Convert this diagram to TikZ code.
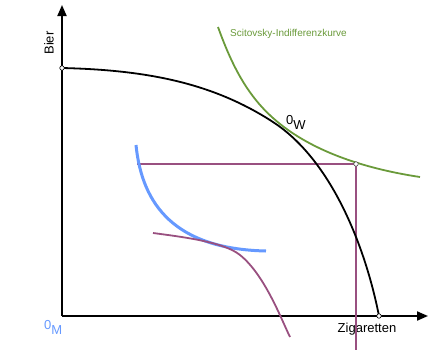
\documentclass[tikz,border=0pt]{standalone}
\usepackage{fontspec}
\setmainfont{Liberation Sans}
\usetikzlibrary{arrows.meta}
\definecolor{icgreen}{RGB}{106,154,58}
\definecolor{magline}{RGB}{153,80,128}
\definecolor{blueline}{RGB}{102,153,255}
\tikzset{
  axis/.style={line width=2pt, -{Triangle[length=11pt,width=9pt]}},
  ppf/.style={line width=1.8pt, black},
  indiff/.style={line width=1.8pt, icgreen},
  magl/.style={line width=1.8pt, magline},
  bluel/.style={line width=3pt, blueline},
  opendot/.style={circle, draw, line width=0.6pt, fill=white, inner sep=0pt, minimum size=4.5pt},
  lbl/.style={inner sep=0pt, font=\fontsize{13}{15}\selectfont},
}
\begin{document}
\begin{tikzpicture}[x=1pt,y=-1pt]
\useasboundingbox (0,0) rectangle (440,362);
% axes
\coordinate (O) at (62,316);
\coordinate (ytop) at (62,5);
\coordinate (xend) at (428,316);
\draw[axis] (O) -- (ytop);
\draw[axis] (O) -- (xend);
% labels
\node[lbl, rotate=90] (bier) at (49,43) {Bier};
\node[lbl, anchor=north] (zig) at (367,323) {Zigaretten};
\node[inner sep=0pt, text=icgreen, font=\fontsize{10}{12}\selectfont, anchor=west] (sci) at (230,34) {Scitovsky-Indifferenzkurve};
\node[lbl, anchor=base west] (ow) at (286,124) {0\raisebox{-5pt}{W}};
\node[lbl, anchor=base west, text=blueline] (om) at (44,329) {0\raisebox{-5pt}{M}};
% magenta tangent lines
\coordinate (Ec) at (356,164);
\coordinate (hl) at (137,164);
\coordinate (vb) at (356,350);
\draw[magl] (hl) -- (Ec) -- (vb);
% production possibility frontier
\coordinate (Ppf0) at (62,68);
\coordinate (Tw) at (273,122);
\coordinate (Ppf1) at (379,316);
\draw[ppf] (Ppf0) .. controls (147,70) and (213,83) .. (Tw)
                  .. controls (333,161) and (366,250) .. (Ppf1);
% Scitovsky indifference curve
\draw[indiff] (218,27) .. controls (231,63) and (246,94) .. (273,118)
              .. controls (312,153) and (370,169.5) .. (420,177);
% blue indifference curve
\draw[bluel] (136,145) .. controls (142,205) and (175,249) .. (266,251);
% magenta contract curve
\draw[magl] (153,233) .. controls (183,237) and (224,242) .. (240,255)
            .. controls (265,275) and (282,321) .. (290,337);
% endpoints
\node[opendot] (A) at (Ppf0) {};
\node[opendot] (B) at (Ppf1) {};
\node[opendot, draw=black!70] (E) at (Ec) {};
\end{tikzpicture}
\end{document}
